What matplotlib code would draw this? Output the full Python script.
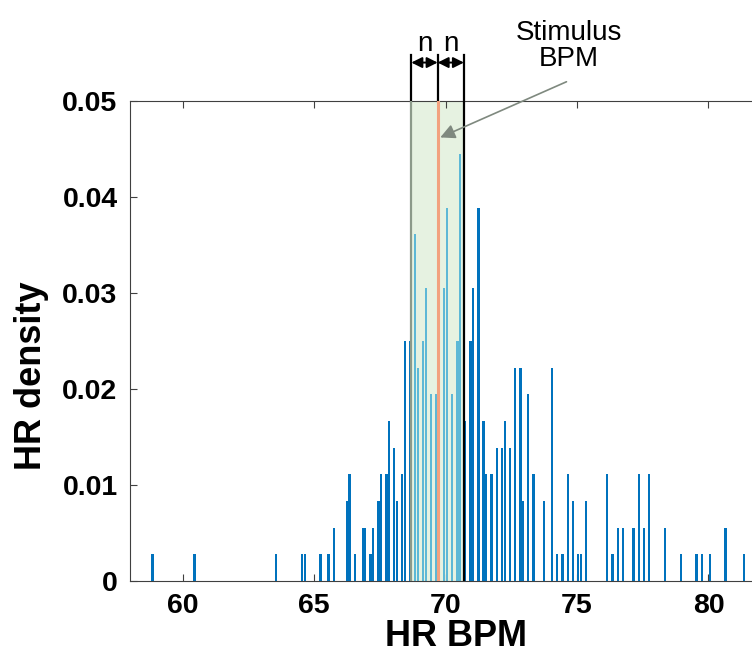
import numpy as np
import matplotlib
matplotlib.use("Agg")
import matplotlib.pyplot as plt

# histogram bins (BPM) and counts, density = count / 360
bpm = [58.85, 60.45, 63.55, 64.55, 64.65, 65.25, 65.55, 65.75, 66.25, 66.35,
       66.55, 66.85, 66.95, 67.15, 67.25, 67.45, 67.55, 67.75, 67.85, 68.05,
       68.15, 68.35, 68.45, 68.65, 68.85, 68.95, 69.15, 69.25, 69.45, 69.65,
       69.75, 69.95, 70.05, 70.25, 70.45, 70.55, 70.75, 70.95, 71.05, 71.25,
       71.45, 71.55, 71.75, 71.95, 72.15, 72.25, 72.45, 72.65, 72.85, 72.95,
       73.15, 73.35, 73.75, 74.05, 74.25, 74.45, 74.65, 74.85, 75.05, 75.15,
       75.35, 76.15, 76.35, 76.55, 76.75, 77.15, 77.35, 77.55, 77.75, 78.35,
       78.95, 79.55, 79.75, 80.05, 80.65, 81.35]
counts = [1, 1, 1, 1, 1, 1, 1, 2, 3, 4,
          1, 2, 2, 1, 2, 3, 4, 4, 6, 5,
          3, 4, 9, 9, 13, 8, 9, 11, 7, 7,
          11, 11, 14, 7, 9, 16, 6, 9, 11, 14,
          6, 4, 4, 5, 5, 6, 5, 8, 8, 3,
          7, 4, 3, 8, 1, 1, 4, 3, 1, 1,
          3, 4, 1, 2, 2, 2, 4, 2, 4, 2,
          1, 1, 1, 1, 2, 1]
total = 360

stim = 69.7
n = 1.0

xticks = [60, 65, 70, 75, 80]
yticks = [0, 0.01, 0.02, 0.03, 0.04, 0.05]
ytick_labels = ["0", "0.01", "0.02", "0.03", "0.04", "0.05"]

plt.rcParams['font.family'] = ['Liberation Sans', 'DejaVu Sans']

fig = plt.figure(figsize=(7.52, 6.59), dpi=100)
ax = fig.add_axes([0.1729, 0.1184, 0.8391, 0.7284])

bpm = np.array(bpm)
dens = np.array(counts) / total
inside = (bpm > stim - n) & (bpm < stim + n)
colors = np.where(inside, "#5db8d6", "#0072BD")

# shaded window around the stimulus
ax.axvspan(stim - n, stim + n, color="#e6f2e1", zorder=0, lw=0)
ax.bar(bpm, dens, width=0.088, color=colors, zorder=2)
ax.plot([stim - n, stim - n], [0, 0.05], color="#8c9a8a", lw=1.6, zorder=3)
ax.plot([stim + n, stim + n], [0, 0.05], color="black", lw=1.6, zorder=3)
ax.plot([stim, stim], [0, 0.05], color="#f2a27f", lw=2.2, zorder=3)

# dimension marks above the axes
top = 0.0548
for xv in [stim - n, stim, stim + n]:
    ax.plot([xv, xv], [0.05, top], color="black", lw=1.6, clip_on=False)
for a, b in [(stim - n, stim), (stim, stim + n)]:
    ax.annotate("", xy=(a, 0.0540), xytext=(b, 0.0540),
                arrowprops=dict(arrowstyle="<|-|>", color="black", lw=1.4,
                                mutation_scale=16, shrinkA=0, shrinkB=0),
                annotation_clip=False)
    ax.text((a + b) / 2, 0.0552, "n", ha="center", va="baseline", fontsize=20)

ax.text(74.7, 0.0557, "Stimulus\nBPM", ha="center", va="center",
        fontsize=20, linespacing=1.0)
ax.annotate("", xy=(69.8, 0.0462), xytext=(74.6, 0.0520),
            arrowprops=dict(arrowstyle="-|>", color="#7f897f", lw=1.2,
                            mutation_scale=22, shrinkA=0, shrinkB=0),
            annotation_clip=False)

ax.set_xlim(58, 82)
ax.set_ylim(0, 0.05)
ax.set_xticks(xticks)
ax.set_yticks(yticks)
ax.set_yticklabels(ytick_labels)
ax.tick_params(direction="in", length=5, width=0.8, color="#404040",
               top=True, right=True, labelsize=20.5, pad=9)
for lab in ax.get_xticklabels() + ax.get_yticklabels():
    lab.set_fontweight("bold")
for s in ax.spines.values():
    s.set_color("#404040")
    s.set_linewidth(0.8)

ax.set_xlabel("HR BPM", fontsize=26, fontweight="bold")
ax.set_ylabel("HR density", fontsize=26, fontweight="bold")
ax.xaxis.set_label_coords(0.517, -0.08)
ax.yaxis.set_label_coords(-0.128, 0.427)

fig.savefig("out.png", dpi=100)
